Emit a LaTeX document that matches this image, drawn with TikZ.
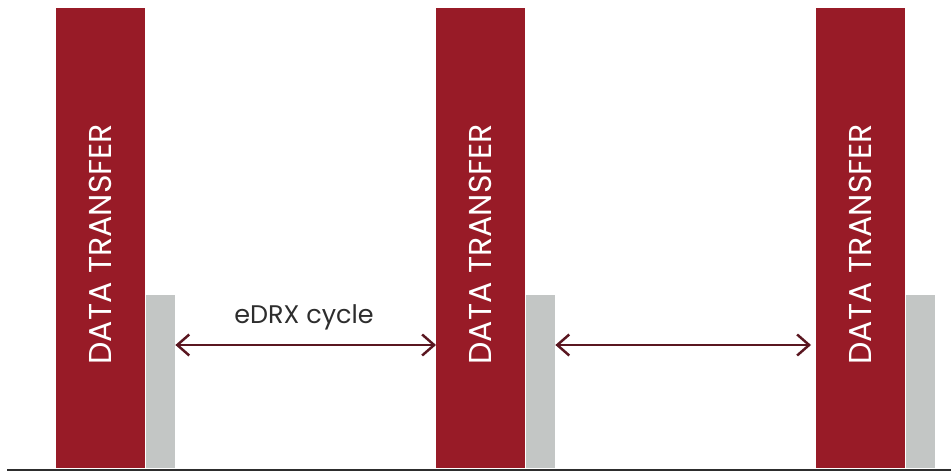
\documentclass[tikz,border=0pt]{standalone}
\usepackage{fontspec}
\setmainfont{Poppins}
\usetikzlibrary{arrows.meta}
\definecolor{barred}{RGB}{152,27,39}
\definecolor{bargray}{RGB}{195,198,197}
\definecolor{cycred}{RGB}{90,22,32}
\definecolor{axisgray}{RGB}{45,45,45}
\tikzset{
  databar/.style={fill=barred, inner sep=0pt, minimum width=1.78cm, minimum height=9.2cm, anchor=south west},
  idlebar/.style={fill=bargray, inner sep=0pt, minimum width=0.58cm, minimum height=3.47cm, anchor=south west},
  dtlabel/.style={rotate=90, text=white, font=\fontsize{18}{18}\selectfont},
  cycle/.style={draw=cycred, line width=1.4pt, {Straight Barb[length=0.24cm,width=0.42cm]}-{Straight Barb[length=0.24cm,width=0.42cm]}}
}
\begin{document}
\begin{tikzpicture}[x=0.02cm, y=0.02cm, line join=round, line cap=round]
		\def\ybase{2.5} \def\yarr{126}
		\useasboundingbox (0,0) rectangle (951,471);
		\foreach \i/\x in {1/56,2/436,3/816}{
			\node[databar] (dt\i) at (\x,\ybase) {};
			\node[idlebar] (idle\i) at (dt\i.south east) {};
			\node[dtlabel] (lab\i) at ([yshift=-0.12cm]dt\i.center) {DATA TRANSFER};
		}
		\draw[axisgray, line width=1.14pt, line cap=butt] (7,1.5)--(951,1.5);
		\draw[cycle] (idle1.east |- 0,\yarr) -- (dt2.west |- 0,\yarr);
		\draw[cycle, shorten >=0.1cm] (idle2.east |- 0,\yarr) -- (dt3.west |- 0,\yarr);
		\node[text=axisgray, font=\fontsize{14.5}{14.5}\selectfont] (edrx) at (304,154) {eDRX cycle};
\end{tikzpicture}
\end{document}
